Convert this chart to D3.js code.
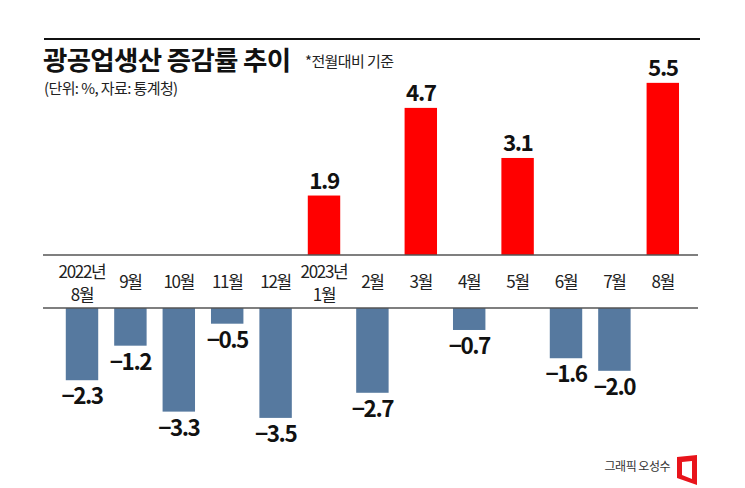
<!DOCTYPE html>
<html>
<head>
<meta charset="utf-8">
<style>
  html, body { margin: 0; padding: 0; background: #fff; }
  svg text { font-family: "Noto Sans CJK KR", "Noto Sans", sans-serif; }
</style>
</head>
<body>
<svg id="chart" width="745" height="488"></svg>
<script src="https://d3js.org/d3.v7.min.js"></script>
<script>
  // 데이터
  const months = ["2022년|8월", "9월", "10월", "11월", "12월", "2023년|1월", "2월", "3월", "4월", "5월", "6월", "7월", "8월"];
  const values = [-2.3, -1.2, -3.3, -0.5, -3.5, 1.9, -2.7, 4.7, -0.7, 3.1, -1.6, -2.0, 5.5];

  const svg = d3.select("#chart");

  const x = d3.scaleBand()
      .domain(months)
      .range([57.8, 687])
      .paddingInner(0.33)
      .paddingOuter(0.165);

  const upBase = 255, downBase = 308;
  const yUp = d3.scaleLinear().domain([0, 6]).range([upBase, upBase - 6 * 31.3]);
  const yDown = d3.scaleLinear().domain([0, -4]).range([downBase, downBase + 4 * 31.4]);

  // 상단 선
  svg.append("line")
      .attr("x1", 44).attr("x2", 700).attr("y1", 39).attr("y2", 39)
      .attr("stroke", "#111").attr("stroke-width", 2);

  // 제목
  svg.append("text")
      .attr("x", 43).attr("y", 70)
      .attr("font-size", 26.5).attr("font-weight", 700)
      .attr("letter-spacing", -0.7)
      .attr("fill", "#111")
      .text("광공업생산 증감률 추이");
  svg.append("text")
      .attr("x", 305).attr("y", 67)
      .attr("font-size", 15).attr("fill", "#222")
      .attr("letter-spacing", -0.6)
      .text("*전월대비 기준");
  svg.append("text")
      .attr("x", 44).attr("y", 94)
      .attr("font-size", 15).attr("fill", "#222")
      .attr("letter-spacing", -0.6)
      .text("(단위: %, 자료: 통계청)");

  // 막대
  svg.selectAll("rect.bar")
      .data(months.map((m, i) => ({ m, v: values[i] })))
      .enter()
      .append("rect")
      .attr("class", "bar")
      .attr("x", d => x(d.m))
      .attr("width", x.bandwidth())
      .attr("y", d => d.v >= 0 ? yUp(d.v) : downBase)
      .attr("height", d => d.v >= 0 ? upBase - yUp(d.v) : yDown(d.v) - downBase)
      .attr("fill", d => d.v >= 0 ? "#ff0000" : "#56799f");

  // 축선
  [upBase, downBase].forEach(yy => {
    svg.append("line")
        .attr("x1", 43).attr("x2", 698).attr("y1", yy).attr("y2", yy)
        .attr("stroke", "#555").attr("stroke-width", 1.5);
  });

  // 값 라벨
  svg.selectAll("text.val")
      .data(months.map((m, i) => ({ m, v: values[i] })))
      .enter()
      .append("text")
      .attr("class", "val")
      .attr("x", d => x(d.m) + x.bandwidth() / 2)
      .attr("y", d => d.v >= 0 ? yUp(d.v) - 7 : yDown(d.v) + 24)
      .attr("text-anchor", "middle")
      .attr("font-size", 22.5).attr("font-weight", 700)
      .attr("letter-spacing", -1.5)
      .attr("fill", "#111")
      .text(d => d.v >= 0 ? d.v.toFixed(1) : "\u2212" + Math.abs(d.v).toFixed(1));

  // 카테고리 라벨
  const cat = svg.selectAll("text.cat")
      .data(months)
      .enter()
      .append("text")
      .attr("class", "cat")
      .attr("text-anchor", "middle")
      .attr("font-size", 17)
      .attr("letter-spacing", -1.3)
      .attr("fill", "#222");
  cat.each(function(d) {
    const parts = d.split("|");
    const t = d3.select(this);
    const cx = x(d) + x.bandwidth() / 2;
    if (parts.length === 1) {
      t.append("tspan").attr("x", cx).attr("y", 288).text(parts[0]);
    } else {
      t.append("tspan").attr("x", cx).attr("y", 278).text(parts[0]);
      t.append("tspan").attr("x", cx).attr("y", 301).text(parts[1]);
    }
  });

  // 크레딧
  svg.append("text")
      .attr("x", 670).attr("y", 471)
      .attr("text-anchor", "end")
      .attr("font-size", 12).attr("fill", "#333")
      .attr("letter-spacing", -0.5)
      .text("그래픽 오성수");
  svg.append("path")
      .attr("d", "M677,457 L697,455 L697,485 L677,478 Z M682,462 L692,461 L692,479 L682,475 Z")
      .attr("fill", "#e8141b")
      .attr("fill-rule", "evenodd");
</script>
</body>
</html>
